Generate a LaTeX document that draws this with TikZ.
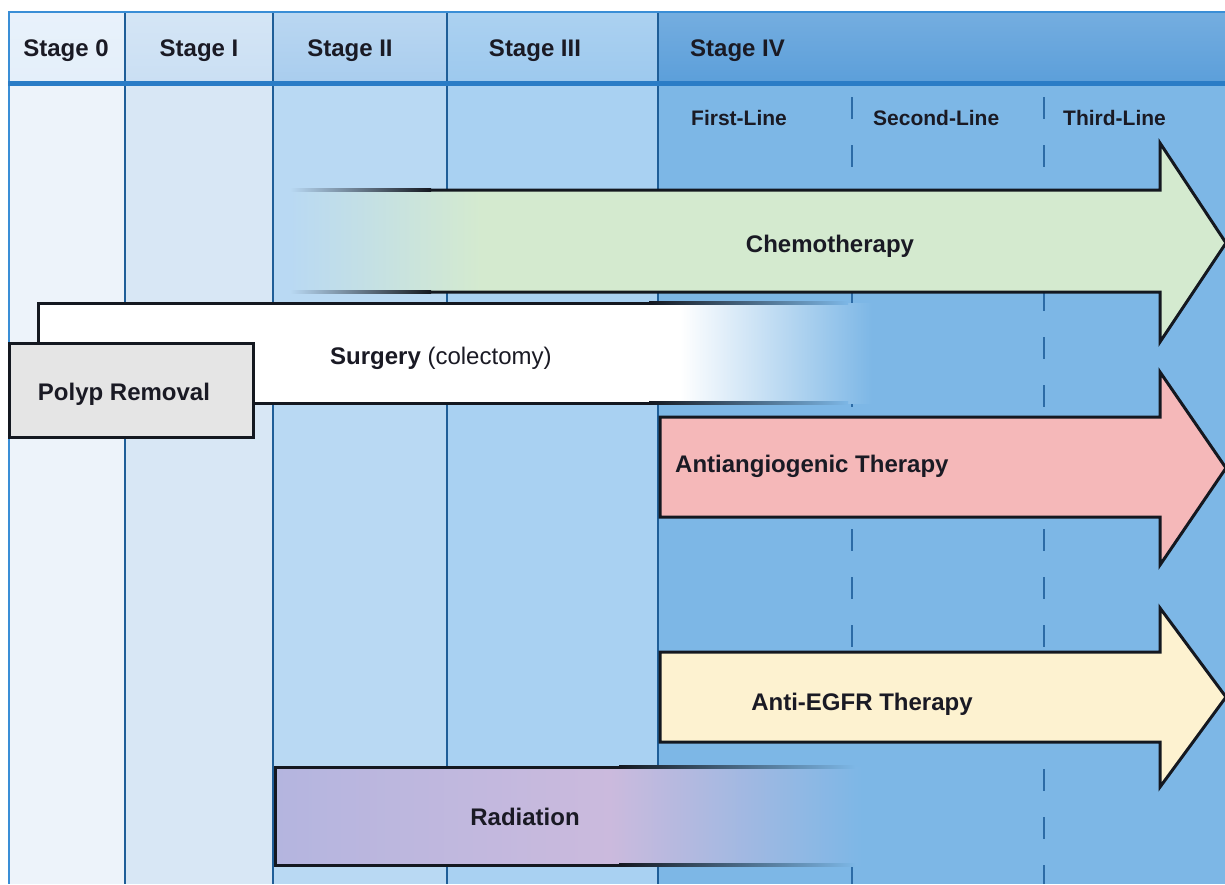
\documentclass[tikz,border=0pt]{standalone}
\usepackage{fontspec}
\setmainfont{Liberation Sans}
\definecolor{ink}{HTML}{1A1A24}
\definecolor{ink2}{HTML}{141820}
\definecolor{bz}{HTML}{EDF3FA}
\definecolor{bi}{HTML}{D8E7F5}
\definecolor{bii}{HTML}{B9D9F3}
\definecolor{biii}{HTML}{A9D1F2}
\definecolor{biv}{HTML}{7DB7E6}
\definecolor{hz}{HTML}{E4EFFA}
\definecolor{hi}{HTML}{CADFF3}
\definecolor{hii}{HTML}{A9CDEE}
\definecolor{hiii}{HTML}{9DC9EE}
\definecolor{hiv}{HTML}{5C9FDA}
\definecolor{divc}{HTML}{1F5E98}
\definecolor{dashc}{HTML}{2C6BA6}
\definecolor{topl}{HTML}{3A8ED6}
\definecolor{hbot}{HTML}{2A7CC6}
\definecolor{chemo}{HTML}{D4EACF}
\definecolor{anti}{HTML}{F5B8B9}
\definecolor{egfr}{HTML}{FDF2D0}
\definecolor{polyp}{HTML}{E5E5E5}
\definecolor{radA}{HTML}{B4B5DF}
\definecolor{radB}{HTML}{CBBADD}
\begin{document}
\begin{tikzpicture}[x=1pt,y=-1pt,
  hdr/.style={font=\fontsize{24}{28}\selectfont\bfseries, text=ink, inner sep=0pt, anchor=base},
  sub/.style={font=\fontsize{21}{25}\selectfont\bfseries, text=ink, inner sep=0pt, anchor=base west},
  lab/.style={font=\fontsize{24}{28}\selectfont\bfseries, text=ink, inner sep=0pt},
  outline/.style={draw=ink2, line width=3pt, line join=miter},
  divider/.style={draw=divc, line width=1.6pt},
  dashdiv/.style={draw=dashc, line width=1.8pt, dash pattern=on 22pt off 26pt}]
\useasboundingbox (0,0) rectangle (1225,884);
\fill[white] (0,0) rectangle (1225,884);
% body columns
\fill[bz] (9,84) rectangle (125,884);
\fill[bi] (125,84) rectangle (273,884);
\fill[bii] (273,84) rectangle (447,884);
\fill[biii] (447,84) rectangle (658,884);
\fill[biv] (658,84) rectangle (1225,884);
% header cells
\shade[top color=hz!85!white, bottom color=hz] (9,12) rectangle (125,82);
\shade[top color=hi!80!white, bottom color=hi] (125,12) rectangle (273,82);
\shade[top color=hii!80!white, bottom color=hii] (273,12) rectangle (447,82);
\shade[top color=hiii!85!white, bottom color=hiii] (447,12) rectangle (658,82);
\shade[top color=hiv!85!white, bottom color=hiv] (658,12) rectangle (1225,82);
% dividers
\draw[divider] (125,12) -- (125,884);
\draw[divider] (273,12) -- (273,884);
\draw[divider] (447,12) -- (447,884);
\draw[divider] (658,12) -- (658,884);
\draw[draw=topl, line width=2pt] (9,12) -- (9,884);
\draw[dashdiv] (852,97) -- (852,884);
\draw[dashdiv] (1044,97) -- (1044,884);
% header lines
\draw[draw=topl, line width=2.5pt] (8,12) -- (1225,12);
\draw[draw=hbot, line width=5pt] (8,83) -- (1225,83);
% chemotherapy arrow
\fill[chemo] (480,190) -- (1160,190) -- (1160,143) -- (1226,243) -- (1160,342) -- (1160,292) -- (480,292) -- cycle;
\shade[left color=bii, right color=chemo] (290,190) rectangle (481,292);
\draw[outline] (430,190) -- (1160,190) -- (1160,143) -- (1226,243) -- (1160,342) -- (1160,292) -- (430,292);
\shade[left color=bii, right color=ink2] (290,188.5) rectangle (431,191.5);
\shade[left color=bii, right color=ink2] (290,290.5) rectangle (431,293.5);
% surgery bar
\fill[white] (38,303) rectangle (681,403);
\shade[left color=white, right color=biv] (680,303) rectangle (872,403);
\draw[outline] (650,303) -- (38,303) -- (38,350);
\draw[outline] (240,403) -- (650,403);
\shade[left color=ink2, right color=biv] (649,301.5) rectangle (848,304.5);
\shade[left color=ink2, right color=biv] (649,401.5) rectangle (848,404.5);
% polyp removal
\filldraw[fill=polyp, outline] (9,343) rectangle (253,437);
% antiangiogenic arrow
\filldraw[fill=anti, outline] (660,417) -- (1160,417) -- (1160,372) -- (1226,468) -- (1160,565) -- (1160,517) -- (660,517) -- cycle;
% anti-EGFR arrow
\filldraw[fill=egfr, outline] (660,652) -- (1160,652) -- (1160,608) -- (1226,697) -- (1160,787) -- (1160,742) -- (660,742) -- cycle;
% radiation bar
\shade[left color=radA, right color=radB] (275,767) rectangle (611,865);
\shade[left color=radB, right color=biv] (610,767) rectangle (862,865);
\draw[outline] (620,767) -- (275,767) -- (275,865) -- (620,865);
\shade[left color=ink2, right color=biv] (619,765.5) rectangle (855,768.5);
\shade[left color=ink2, right color=biv] (619,863.5) rectangle (855,866.5);
% header texts
\node[hdr] (s0) at (66,56) {Stage 0};
\node[hdr] (s1) at (199,56) {Stage I};
\node[hdr] (s2) at (350,56) {Stage II};
\node[hdr] (s3) at (535,56) {Stage III};
\node[hdr, anchor=base west] (s4) at (690,56) {Stage IV};
\node[sub] (l1) at (691,125) {First-Line};
\node[sub] (l2) at (873,125) {Second-Line};
\node[sub] (l3) at (1063,125) {Third-Line};
% labels
\node[lab, anchor=base] (tchemo) at (830,252) {Chemotherapy};
\node[lab, anchor=base west] (tsurg) at (330,364) {Surgery \mdseries(colectomy)};
\node[lab, anchor=base] (tpolyp) at (124,400) {Polyp Removal};
\node[lab, anchor=base west] (tanti) at (675,472) {Antiangiogenic Therapy};
\node[lab, anchor=base] (tegfr) at (862,710) {Anti-EGFR Therapy};
\node[lab, anchor=base] (trad) at (525,825) {Radiation};
\end{tikzpicture}
\end{document}
